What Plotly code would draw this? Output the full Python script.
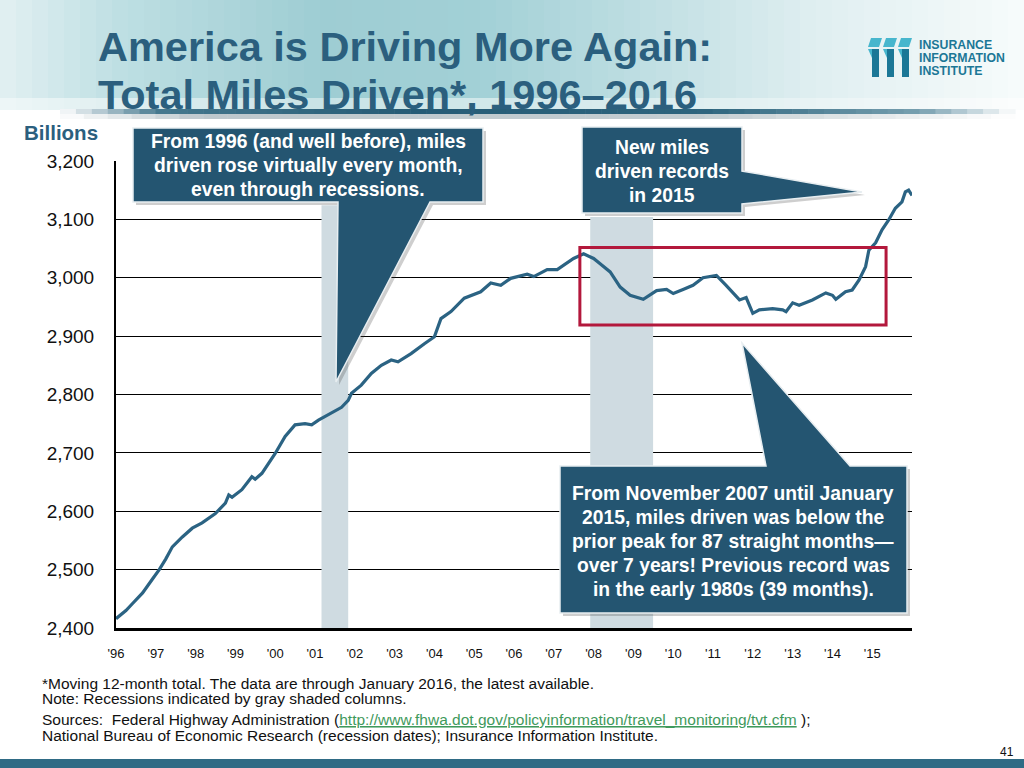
import plotly.graph_objects as go

# ---------------- data ----------------
months = [
    "1996-01", "1996-04", "1996-06", "1996-09", "1996-12", "1997-02", "1997-04", "1997-06",
    "1997-09", "1997-12", "1998-03", "1998-07", "1998-10", "1998-11", "1998-12", "1999-03",
    "1999-06", "1999-07", "1999-09", "2000-01", "2000-04", "2000-07", "2000-10", "2000-12",
    "2001-02", "2001-06", "2001-09", "2001-11", "2001-12", "2002-03", "2002-06", "2002-09",
    "2002-12", "2003-02", "2003-06", "2003-10", "2004-01", "2004-03", "2004-06", "2004-10",
    "2005-03", "2005-06", "2005-09", "2005-12", "2006-05", "2006-07", "2006-11", "2007-02",
    "2007-05", "2007-07", "2007-10", "2008-01", "2008-03", "2008-06", "2008-09", "2008-12",
    "2009-04", "2009-05", "2009-08", "2009-11", "2010-01", "2010-04", "2010-07", "2010-10",
    "2011-02", "2011-05", "2011-09", "2011-11", "2012-01", "2012-03", "2012-07", "2012-10",
    "2012-11", "2013-01", "2013-03", "2013-07", "2013-11", "2014-01", "2014-02", "2014-05",
    "2014-07", "2014-09", "2014-11", "2014-12", "2015-02", "2015-04", "2015-06", "2015-08",
    "2015-10", "2015-11", "2015-12", "2016-01",
]
miles = [
    2416, 2430, 2442, 2460, 2484, 2500, 2518, 2539,
    2556, 2571, 2580, 2596, 2614, 2628, 2624, 2637,
    2659, 2655, 2665, 2699, 2728, 2748, 2750, 2748,
    2756, 2768, 2778, 2790, 2802, 2816, 2836, 2850,
    2859, 2856, 2870, 2887, 2899, 2930, 2942, 2965,
    2976, 2991, 2987, 2999, 3006, 3002, 3014, 3014,
    3026, 3033, 3041, 3033, 3024, 3010, 2984, 2970,
    2963, 2967, 2978, 2980, 2973, 2980, 2987, 3000,
    3004, 2987, 2962, 2966, 2939, 2945, 2947, 2945,
    2942, 2957, 2953, 2962, 2974, 2970, 2963, 2976,
    2979, 2996, 3019, 3047, 3060, 3082, 3099, 3119,
    3130, 3147, 3150, 3141,
]
year_ticks = [f"{y}-01-01" for y in range(1996, 2016)]
year_labels = ["'96", "'97", "'98", "'99", "'00", "'01", "'02", "'03", "'04", "'05",
               "'06", "'07", "'08", "'09", "'10", "'11", "'12", "'13", "'14", "'15"]
y_ticks = [2400, 2500, 2600, 2700, 2800, 2900, 3000, 3100, 3200]
recession_start = ["2001-03-01", "2007-12-01"]
recession_end = ["2001-11-01", "2009-06-30"]

# ---------------- layout helpers (pixel -> paper) ----------------
L, R, T, B = 116, 912, 161, 628
W, H = 1024, 768


def px(x):
    return (x - L) / (R - L)


def py(y):
    return (B - y) / (B - T)


def lerp_color(stops, x):
    for (x0, c0), (x1, c1) in zip(stops[:-1], stops[1:]):
        if x0 <= x <= x1:
            t = (x - x0) / (x1 - x0) if x1 > x0 else 0
            return "rgb(%d,%d,%d)" % tuple(round(a + (b - a) * t) for a, b in zip(c0, c1))
    return "rgb(%d,%d,%d)" % stops[-1][1]


shapes = []


def strips(stops, x0, x1, y0, y1, n, opacity=1.0):
    step = (x1 - x0) / n
    for i in range(n):
        xa = x0 + i * step
        xb = xa + step + 0.6
        col = lerp_color(stops, xa + step / 2)
        shapes.append(dict(type="rect", xref="paper", yref="paper",
                           x0=px(xa), x1=px(xb), y0=py(y1), y1=py(y0),
                           fillcolor=col, line=dict(width=0), layer="below",
                           opacity=opacity))


# header background gradient
header_stops = [(0, (226, 240, 242)), (120, (190, 223, 227)), (320, (158, 205, 211)),
                (480, (162, 208, 214)), (650, (192, 223, 227)), (820, (224, 239, 241)),
                (1024, (247, 251, 251))]
strips(header_stops, 0, W, 0, 110, 64)
# lower soft fade of header
fade_stops = [(0, (238, 246, 247)), (320, (200, 227, 230)), (650, (218, 236, 238)),
              (1024, (252, 253, 253))]
strips(fade_stops, 0, W, 98, 110, 64)
# dark rule under the title
rule_stops = [(60, (255, 255, 255)), (160, (70, 120, 142)), (400, (38, 92, 118)),
              (700, (45, 100, 125)), (920, (120, 160, 176)), (1015, (255, 255, 255))]
strips(rule_stops, 60, 1015, 109, 114, 60)
shadow_stops = [(60, (255, 255, 255)), (200, (190, 200, 205)), (700, (195, 205, 209)),
                (1015, (255, 255, 255))]
strips(shadow_stops, 60, 1015, 114, 119, 40)

# bottom bar
shapes.append(dict(type="rect", xref="paper", yref="paper", x0=px(0), x1=px(W),
                   y0=py(768), y1=py(759), fillcolor="#2f6b85", line=dict(width=0),
                   layer="below"))

# recession columns
bar_tops = [3124, 3104]
for s, e, top in zip(recession_start, recession_end, bar_tops):
    shapes.append(dict(type="rect", xref="x", yref="y", x0=s, x1=e, y0=2400, y1=top,
                       fillcolor="#cfdbe1", line=dict(width=0), layer="between"))

# red highlight box
shapes.append(dict(type="rect", xref="x", yref="y", x0="2007-08-28", x1="2015-05-08",
                   y0=2919, y1=3052, fillcolor="rgba(0,0,0,0)",
                   line=dict(color="#b3183c", width=3), layer="above"))


def poly(points):
    return "M " + " L ".join(f"{px(x):.5f},{py(y):.5f}" for x, y in points) + " Z"


callouts = [
    [(133, 128), (483, 128), (483, 202), (430, 202), (336, 382), (338, 202), (133, 202)],
    [(582, 127), (742, 127), (742, 171), (862, 192), (742, 204), (742, 213), (582, 213)],
    [(560, 466), (766, 466), (742, 343), (850, 466), (907, 466), (907, 613), (560, 613)],
]
for pts in callouts:
    shadow = [(x + 3, y + 3) for x, y in pts]
    shapes.append(dict(type="path", xref="paper", yref="paper", path=poly(shadow),
                       fillcolor="rgba(60,60,60,0.25)", line=dict(width=0), layer="above"))
    shapes.append(dict(type="path", xref="paper", yref="paper", path=poly(pts),
                       fillcolor="#245571", line=dict(color="#e8eef1", width=1.5),
                       layer="above"))

# logo marks
logo_light = "#47b6cd"
logo_dark = "#1b7796"
for x0 in (868, 883, 898):
    shapes.append(dict(type="path", xref="paper", yref="paper",
                       path=poly([(x0 + 3, 38), (x0 + 14, 38), (x0 + 11, 47), (x0, 47)]),
                       fillcolor=logo_light, line=dict(width=0), layer="above"))
    shapes.append(dict(type="path", xref="paper", yref="paper",
                       path=poly([(x0 + 4, 49), (x0 + 11, 49), (x0 + 11, 77), (x0 + 4, 77)]),
                       fillcolor=logo_dark, line=dict(width=0), layer="above"))
    shapes.append(dict(type="path", xref="paper", yref="paper",
                       path=poly([(x0, 49), (x0 + 4, 49), (x0 + 4, 58)]),
                       fillcolor=logo_light, line=dict(width=0), layer="above"))

# ---------------- annotations ----------------
ann = []
TITLE_C = "#2b5f7e"
SANS = "Liberation Sans, Arial, sans-serif"


def text(x, y, s, size, color="#111111", anchor="left", bold=False):
    if bold:
        s = f"<b>{s}</b>"
    ann.append(dict(xref="paper", yref="paper", x=px(x), y=py(y), text=s,
                    showarrow=False, xanchor=anchor, yanchor="middle",
                    font=dict(family=SANS, size=size, color=color)))


text(96, 47, "America is Driving More Again:", 41.5, TITLE_C, bold=True)
text(96, 94, "Total Miles Driven*, 1996\u20132016", 41.5, TITLE_C, bold=True)
text(100, 132, "Billions", 20.5, TITLE_C, anchor="right", bold=True)

for i, s in enumerate(["INSURANCE", "INFORMATION", "INSTITUTE"]):
    text(917, 45 + 13 * i, s, 12.3, "#1b7796", bold=True)

for i, s in enumerate(["From 1996 (and well before), miles",
                       "driven rose virtually every month,",
                       "even through recessions."]):
    text(308, 142 + 23.5 * i, s, 19.3, "white", anchor="center", bold=True)
for i, s in enumerate(["New miles", "driven records", "in 2015"]):
    text(662, 147 + 24 * i, s, 19.3, "white", anchor="center", bold=True)
for i, s in enumerate(["From November 2007 until January",
                       "2015, miles driven was below the",
                       "prior peak for 87 straight months\u2014",
                       "over 7 years! Previous record was",
                       "in the early 1980s (39 months)."]):
    text(733, 493 + 24 * i, s, 19.3, "white", anchor="center", bold=True)

FOOT = 15.5
text(40, 683, "*Moving 12-month total. The data are through January 2016, the latest available.", FOOT)
text(40, 698, "Note: Recessions indicated by gray shaded columns.", FOOT)
text(40, 719, "Sources:  Federal Highway Administration (<span style='color:#3f9a5c'><u>"
     "http://www.fhwa.dot.gov/policyinformation/travel_monitoring/tvt.cfm</u></span> );", FOOT)
text(40, 735, "National Bureau of Economic Research (recession dates); Insurance Information Institute.", FOOT)
text(1016, 752, "41", 12, anchor="right")

# ---------------- figure ----------------
fig = go.Figure()
fig.add_trace(go.Scatter(x=months, y=miles, mode="lines",
                         line=dict(color="#2b6383", width=3.2), hoverinfo="skip"))

fig.update_layout(
    width=W, height=H,
    margin=dict(l=L, r=W - R, t=T, b=H - B, pad=0),
    paper_bgcolor="white", plot_bgcolor="white",
    showlegend=False,
    shapes=shapes, annotations=ann,
    font=dict(family=SANS, color="#111111"),
)
fig.update_xaxes(type="date", range=["1996-01-01", "2016-01-01"],
                 tickvals=year_ticks, ticktext=year_labels,
                 showgrid=False, zeroline=False, showline=True,
                 linecolor="black", linewidth=2.5, ticks="",
                 tickfont=dict(size=13, color="#111111"), ticklabelstandoff=12)
fig.update_yaxes(range=[2400, 3200], tickvals=y_ticks, tickformat=",",
                 showgrid=True, gridcolor="black", gridwidth=1,
                 zeroline=False, showline=True, linecolor="black", linewidth=2,
                 ticks="", tickfont=dict(size=19, color="#111111"),
                 ticklabelstandoff=16)

fig.write_html("out.html", config={"displayModeBar": False},
               post_script="document.body.style.margin='0';"
                           "document.body.style.overflow='hidden';")
